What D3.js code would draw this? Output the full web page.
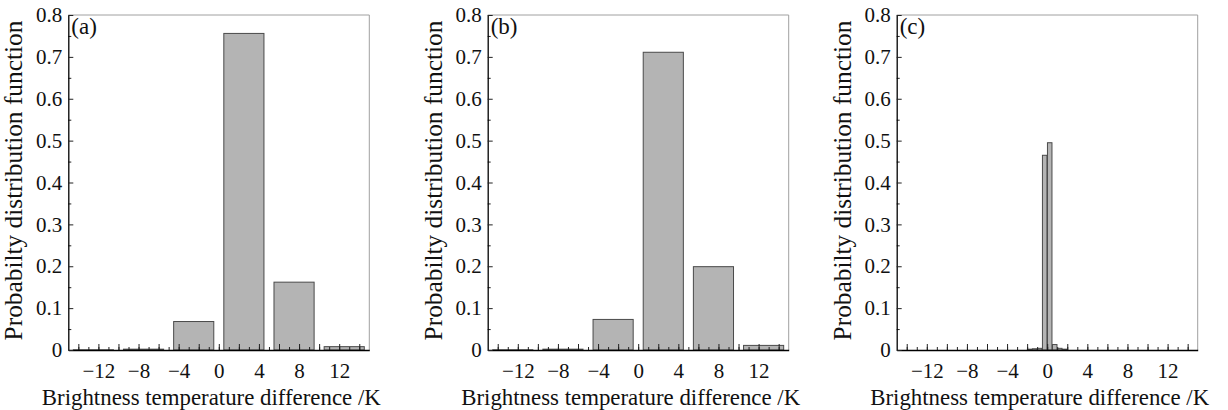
<!DOCTYPE html>
<html>
<head>
<meta charset="utf-8">
<script src="https://cdn.jsdelivr.net/npm/d3@7"></script>
<style>
  html, body { margin: 0; padding: 0; background: #fff; }
  svg { display: block; }
  text { font-family: "Liberation Serif", "Times New Roman", serif; fill: #111; }
</style>
</head>
<body>
<svg id="chart" width="1228" height="410"></svg>
<script>
// ---- data ----
const panelLabels = ["(a)", "(b)", "(c)"];
const binCentersAB = [-12.5, -7.5, -2.5, 2.5, 7.5, 12.5];
const valuesA = [0.0005, 0.002, 0.068, 0.756, 0.162, 0.008];
const valuesB = [0.0005, 0.002, 0.073, 0.711, 0.199, 0.011];
const binCentersC = [-1.75, -1.25, -0.75, -0.25, 0.25, 0.75, 1.25, 1.75];
const valuesC = [0.002, 0.003, 0.004, 0.465, 0.495, 0.013, 0.004, 0.002];
const xTickLabels = [-12, -8, -4, 0, 4, 8, 12];
const yTickLabels = [0, 0.1, 0.2, 0.3, 0.4, 0.5, 0.6, 0.7, 0.8];
const xTitle = "Brightness temperature difference /K";
const yTitle = "Probabilty distribution function";

// ---- layout ----
const svg = d3.select("#chart");
const panelLeft = [68.3, 487.7, 896.7];
const plotTop = 15, W = 301, H = 335;
const panels = [
  { label: panelLabels[0], centers: binCentersAB, values: valuesA, barW: 4 },
  { label: panelLabels[1], centers: binCentersAB, values: valuesB, barW: 4 },
  { label: panelLabels[2], centers: binCentersC, values: valuesC, barW: 0.45 }
];
const tickFont = 21;

// fit a text element to a target length by adjusting its font size
function fitText(sel, target) {
  const len = sel.node().getComputedTextLength();
  const fs = parseFloat(sel.style("font-size"));
  sel.style("font-size", (fs * target / len).toFixed(2) + "px");
}

panels.forEach((p, i) => {
  const g = svg.append("g").attr("transform", `translate(${panelLeft[i]},${plotTop})`);
  const x = d3.scaleLinear().domain([-15, 15]).range([0, W]);
  const y = d3.scaleLinear().domain([0, 0.8]).range([H, 0]);

  // bars
  g.selectAll("rect.bar").data(p.centers.map((c, k) => ({ c, v: p.values[k] })))
    .join("rect").attr("class", "bar")
    .attr("x", d => x(d.c - p.barW / 2))
    .attr("width", d => x(d.c + p.barW / 2) - x(d.c - p.barW / 2))
    .attr("y", d => y(d.v))
    .attr("height", d => y(0) - y(d.v))
    .attr("fill", "#b4b4b4").attr("stroke", "#4a4a4a").attr("stroke-width", 1);

  // frame top/right (gray)
  g.append("path").attr("d", `M0,0H${W}V${H}`).attr("fill", "none")
    .attr("stroke", "#a0a0a0").attr("stroke-width", 1);

  // x axis minor / major ticks (inward)
  const xMinor = g.append("g").attr("transform", `translate(0,${H})`)
    .call(d3.axisBottom(x).tickValues(d3.range(-14, 15, 1)).tickSize(-3).tickSizeOuter(0).tickFormat(""));
  const xMajor = g.append("g").attr("transform", `translate(0,${H})`)
    .call(d3.axisBottom(x).tickValues(d3.range(-14, 15, 2)).tickSize(-6).tickSizeOuter(0).tickFormat(""));
  const xLab = g.append("g").attr("transform", `translate(0,${H})`)
    .call(d3.axisBottom(x).tickValues(xTickLabels).tickSize(0).tickPadding(13).tickSizeOuter(0)
      .tickFormat(d3.format("d")));
  xLab.select(".domain").attr("stroke", "#000").attr("stroke-width", 1.3);
  xLab.selectAll("text").style("font-family", "Liberation Serif").style("font-size", tickFont + "px").attr("fill", "#111");

  // y axis
  const yMinor = g.append("g")
    .call(d3.axisLeft(y).tickValues(d3.range(0.05, 0.8, 0.1)).tickSize(-3).tickSizeOuter(0).tickFormat(""));
  const yMajor = g.append("g")
    .call(d3.axisLeft(y).tickValues(yTickLabels).tickSize(-5).tickPadding(6).tickSizeOuter(0)
      .tickFormat(d => d === 0 ? "0" : d3.format(".1f")(d)));
  yMajor.select(".domain").attr("stroke", "#000").attr("stroke-width", 1.3);
  yMajor.selectAll("text").style("font-family", "Liberation Serif").style("font-size", tickFont + "px").attr("fill", "#111");
  [xMinor, xMajor, yMinor].forEach(a => a.select(".domain").remove());
  g.selectAll(".tick line").attr("stroke", "#222");

  // panel label
  g.append("text").attr("x", 3).attr("y", 18.5).style("font-size", "23px").text(p.label);

  // axis titles
  const xt = g.append("text").attr("x", W / 2 - 7.5).attr("y", 405 - plotTop)
    .attr("text-anchor", "middle").style("font-size", "21px").text(xTitle);
  fitText(xt, 339);
  const yt = g.append("text").attr("transform", `translate(${-46},${H / 2 - 2}) rotate(-90)`)
    .attr("text-anchor", "middle").style("font-size", "21px").text(yTitle);
  fitText(yt, 320);
});
</script>
</body>
</html>
